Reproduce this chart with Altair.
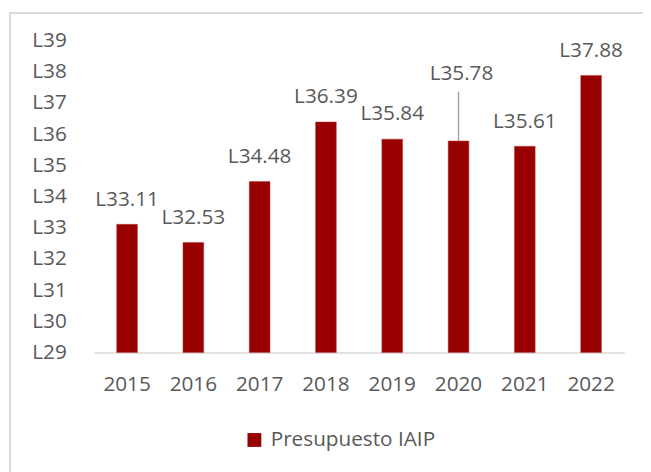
import altair as alt
import pandas as pd

years = ["2015", "2016", "2017", "2018", "2019", "2020", "2021", "2022"]
values = [33.11, 32.53, 34.48, 36.39, 35.84, 35.78, 35.61, 37.88]
labels = ["L33.11", "L32.53", "L34.48", "L36.39", "L35.84", "L35.78", "L35.61", "L37.88"]
series = "Presupuesto IAIP"
y_ticks = list(range(29, 40))
y_base = 29

df = pd.DataFrame({"year": years, "value": values, "label": labels, "series": series})

FONT = "Open Sans"
GRAY = "#595959"
RED = "#990000"

x_enc = alt.X("year:N", sort=years, title=None,
              scale=alt.Scale(paddingInner=0, paddingOuter=0),
              axis=alt.Axis(labelAngle=0, labelFont=FONT, labelFontSize=21,
                            labelColor=GRAY, ticks=False, tickSize=0,
                            domainColor="#D9D9D9", domainWidth=1.5,
                            labelPadding=21))
y_enc = alt.Y("value:Q", title=None,
              scale=alt.Scale(domain=[29, 39], nice=False, zero=False),
              axis=alt.Axis(values=y_ticks, labelExpr="'L' + datum.value",
                            labelFont=FONT, labelFontSize=21, labelColor=GRAY,
                            labelOverlap=False,
                            ticks=False, tickSize=0, domain=False, grid=False,
                            labelPadding=28))

bars = alt.Chart(df).mark_bar(size=21, stroke="#B84040", strokeWidth=0.5).encode(
    x=x_enc, y=y_enc, y2=alt.Y2(datum=y_base),
    color=alt.Color("series:N", title=None,
                    scale=alt.Scale(range=[RED]),
                    legend=alt.Legend(orient="none", legendX=152, legendY=394,
                                      symbolType="square", symbolSize=196,
                                      symbolStrokeWidth=0, labelLimit=400,
                                      labelFont=FONT, labelFontSize=21,
                                      labelColor=GRAY, labelOffset=6)))

base = alt.Chart(df)
text_normal = base.transform_filter(alt.datum.year != "2020").mark_text(
    font=FONT, fontSize=21, color=GRAY, baseline="middle", dy=-25).encode(
    x=x_enc, y=y_enc, text="label:N")
text_2020 = base.transform_filter(alt.datum.year == "2020").mark_text(
    font=FONT, fontSize=21, color=GRAY, baseline="middle", dy=-68, dx=3).encode(
    x=x_enc, y=y_enc, text="label:N")
leader = base.transform_filter(alt.datum.year == "2020").mark_rule(
    color="#A6A6A6", strokeWidth=1.5, y2Offset=-50).encode(
    x=x_enc, y=y_enc, y2="value:Q")

border_top = alt.Chart(df).mark_rule(color="#D9D9D9", strokeWidth=1.5).encode(
    x=alt.value(-85), x2=alt.value(600), y=alt.value(-28))
border_left = alt.Chart(df).mark_rule(color="#D9D9D9", strokeWidth=1.5).encode(
    x=alt.value(-85), y=alt.value(-28), y2=alt.value(450))

chart = alt.layer(border_top, border_left, bars, leader, text_normal, text_2020).properties(
    width=537, height=316,
    background="white",
    autosize=alt.AutoSizeParams(type="none"),
    padding={"left": 87, "top": 30, "right": 19, "bottom": 118},
).configure_view(strokeWidth=0, stroke="transparent")

chart.save("out.html", embed_options={"renderer": "svg", "actions": False})
